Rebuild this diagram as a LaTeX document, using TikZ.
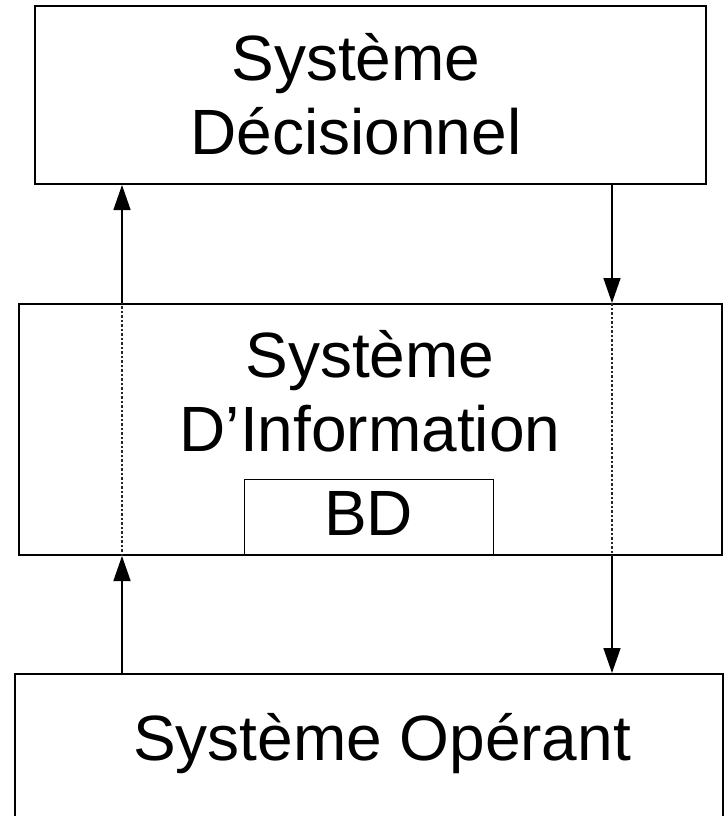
\documentclass[tikz,border=0pt]{standalone}
\usepackage{fontspec}
\setmainfont{Liberation Sans}
\usetikzlibrary{arrows.meta,calc}
\begin{document}
\begin{tikzpicture}[x=1pt,y=-1pt,
  sysbox/.style={draw,line width=2pt,inner sep=0pt,anchor=north west},
  lbl/.style={font=\fontsize{64}{74}\selectfont,inner sep=0pt,align=center},
  flow/.style={line width=1.5pt,-{Triangle[length=25pt,width=17pt]}},
  thru/.style={line width=1.2pt,dash pattern=on 2.5pt off 2pt,black!85}]
\useasboundingbox (0,0) rectangle (725,816);
\clip (0,0) rectangle (725,816);
% boxes
\node[sysbox,minimum width=671pt,minimum height=178pt] (sd) at (34,5) {};
\node[sysbox,minimum width=703pt,minimum height=251pt] (si) at (18,303) {};
\node[sysbox,minimum width=708pt,minimum height=200pt] (so) at (14,673) {};
\node[draw,line width=1.2pt,inner sep=0pt,anchor=north west,minimum width=249pt,minimum height=75pt] (bd) at (244,479) {};
% texts
\node[lbl] (tsd) at (356,94) {Système\\Décisionnel};
\node[lbl] (tsi) at (370,391) {Système\\D’Information};
\node[lbl,anchor=base] (tbd) at (368.5,535) {BD};
\node[lbl,anchor=base] (tso) at (382,760) {Système Opérant};
% arrow columns
\coordinate (xl) at (122,0);
\coordinate (xr) at (612,0);
\draw[flow] (xl |- so.north) -- (xl |- si.south);
\draw[thru] (xl |- si.south) -- (xl |- si.north);
\draw[flow] (xl |- si.north) -- (xl |- sd.south);
\draw[flow] (xr |- sd.south) -- (xr |- si.north);
\draw[thru] (xr |- si.north) -- (xr |- si.south);
\draw[flow] (xr |- si.south) -- (xr |- so.north);
\end{tikzpicture}
\end{document}
